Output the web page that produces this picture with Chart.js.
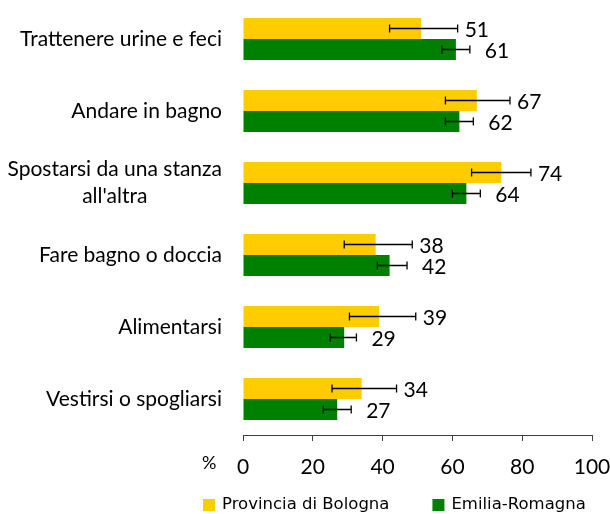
<!DOCTYPE html>
<html>
<head>
<meta charset="utf-8">
<script src="https://cdn.jsdelivr.net/npm/chart.js@4"></script>
<style>
    body { margin: 0; background: #fff; }
    #wrap { width: 610px; height: 514px; position: relative; }
</style>
</head>
<body>
<div id="wrap"><canvas id="chartAdl"></canvas></div>
<script>
// Dati
const categorie = ['Trattenere urine e feci', 'Andare in bagno', ['Spostarsi da una stanza', "all'altra"], 'Fare bagno o doccia', 'Alimentarsi', 'Vestirsi o spogliarsi'];
const bologna = [51, 67, 74, 38, 39, 34];
const bolognaMin = [42, 58, 65.5, 29, 30.5, 25.5];
const bolognaMax = [61.5, 76.5, 82.5, 48.5, 49.5, 44];
const emilia = [61, 62, 64, 42, 29, 27];
const emiliaMin = [57, 58, 60, 38.5, 25, 23];
const emiliaMax = [65, 66, 68, 47, 32.5, 31];
const xTicks = [0, 20, 40, 60, 80, 100];

const FONT = 'Lato, "Open Sans", sans-serif';

// Barre di errore + etichette valori
const errorBarsPlugin = {
    id: 'errorBars',
    afterDatasetsDraw(chart) {
        const ctx = chart.ctx;
        const xScale = chart.scales.x;
        chart.data.datasets.forEach(function(ds, i) {
            const meta = chart.getDatasetMeta(i);
            meta.data.forEach(function(bar, j) {
                const y = bar.y;
                const x1 = xScale.getPixelForValue(ds.errMin[j]);
                const x2 = xScale.getPixelForValue(ds.errMax[j]);
                ctx.save();
                ctx.strokeStyle = '#000';
                ctx.lineWidth = 1.3;
                ctx.beginPath();
                ctx.moveTo(x1, y); ctx.lineTo(x2, y);
                ctx.moveTo(x1, y - 4); ctx.lineTo(x1, y + 4);
                ctx.moveTo(x2, y - 4); ctx.lineTo(x2, y + 4);
                ctx.stroke();
                // etichetta
                ctx.fillStyle = '#000';
                ctx.font = '21px ' + FONT;
                ctx.textAlign = 'left';
                ctx.textBaseline = 'middle';
                ctx.fillText(ds.data[j], x2 + ds.labelOffset, y + 2);
                ctx.restore();
            });
        });
    }
};

// Etichette categorie, "%" e legenda
const extraTextPlugin = {
    id: 'extraText',
    afterDraw(chart) {
        const ctx = chart.ctx;
        const yScale = chart.scales.y;
        ctx.save();
        ctx.fillStyle = '#000';
        ctx.font = '21px ' + FONT;
        ctx.textBaseline = 'middle';
        ctx.textAlign = 'center';
        const rightEdge = chart.chartArea.left - 21;
        chart.data.labels.forEach(function(lab, i) {
            const lines = Array.isArray(lab) ? lab : [lab];
            const w = Math.max(...lines.map(l => ctx.measureText(l).width));
            const cx = rightEdge - w / 2;
            const yc = yScale.getPixelForValue(i);
            const lh = 27;
            lines.forEach(function(l, k) {
                ctx.fillText(l, cx, yc + (k - (lines.length - 1) / 2) * lh);
            });
        });

        ctx.font = '18px ' + FONT;
        ctx.textAlign = 'left';
        ctx.fillText('%', 202, 463);

        // legenda
        ctx.font = '16.5px "DejaVu Sans", sans-serif';
        let x = 203;
        chart.data.datasets.forEach(function(ds) {
            ctx.fillStyle = ds.backgroundColor;
            ctx.fillRect(x, 499, 12, 12);
            ctx.fillStyle = '#000';
            ctx.fillText(ds.label, x + 19, 505);
            x += 19 + ctx.measureText(ds.label).width + 43;
        });
        ctx.restore();
    }
};

const ctxAdl = document.getElementById('chartAdl').getContext('2d');
new Chart(ctxAdl, {
    type: 'bar',
    data: {
        labels: categorie,
        datasets: [{
            label: 'Provincia di Bologna',
            data: bologna,
            errMin: bolognaMin,
            errMax: bolognaMax,
            labelOffset: 7,
            backgroundColor: '#FFCC00',
            borderWidth: 0,
            categoryPercentage: 0.583,
            barPercentage: 1.0
        }, {
            label: 'Emilia-Romagna',
            data: emilia,
            errMin: emiliaMin,
            errMax: emiliaMax,
            labelOffset: 15,
            backgroundColor: '#008000',
            borderWidth: 0,
            categoryPercentage: 0.583,
            barPercentage: 1.0
        }]
    },
    options: {
        indexAxis: 'y',
        responsive: true,
        maintainAspectRatio: false,
        animation: false,
        layout: {
            padding: { top: 3, right: 2, bottom: 34, left: 0 }
        },
        plugins: {
            legend: { display: false },
            tooltip: { enabled: false }
        },
        scales: {
            x: {
                min: 0,
                max: 100,
                afterBuildTicks: function(scale) {
                    scale.ticks = xTicks.map(v => ({ value: v }));
                },
                afterFit: function(scale) {
                    scale.height = 45;
                    scale.paddingRight = 18;
                },
                ticks: {
                    font: { family: FONT, size: 21 },
                    color: '#000',
                    padding: 14,
                    maxRotation: 0
                },
                grid: {
                    drawOnChartArea: false,
                    drawTicks: true,
                    tickLength: 6,
                    color: '#404040',
                    lineWidth: 1
                },
                border: { display: true, color: '#404040', width: 1 }
            },
            y: {
                afterFit: function(scale) { scale.width = 243; },
                ticks: { display: false },
                grid: { display: false },
                border: { display: false }
            }
        }
    },
    plugins: [errorBarsPlugin, extraTextPlugin]
});
</script>
</body>
</html>
